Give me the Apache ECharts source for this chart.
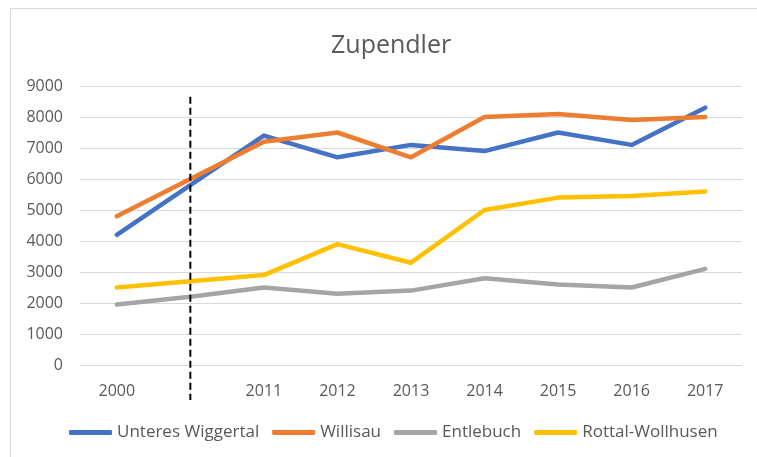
<!DOCTYPE html>
<html>
<head>
<meta charset="utf-8">
<script src="https://cdn.jsdelivr.net/npm/echarts@6/dist/echarts.min.js"></script>
<style>
  html, body { margin: 0; padding: 0; background: #fff; }
  #chart { width: 757px; height: 457px; }
</style>
</head>
<body>
<div id="chart"></div>
<script>
// x axis: second slot is an unlabeled gap (2001-2010)
var years = ['2000', '', '2011', '2012', '2013', '2014', '2015', '2016', '2017'];
var wiggertal = [4200, 5800, 7400, 6700, 7100, 6900, 7500, 7100, 8300];
var willisau = [4800, 6000, 7200, 7500, 6700, 8000, 8100, 7900, 8000];
var entlebuch = [1950, 2200, 2500, 2300, 2400, 2800, 2600, 2500, 3100];
var rottal = [2500, 2700, 2900, 3900, 3300, 5000, 5400, 5450, 5600];
// dashed separator: category and value span (runs below the axis)
var breakLine = [['', 8650, -1130]];

var font = 'Open Sans';
var chart = echarts.init(document.getElementById('chart'));

function lineSeries(name, color, data) {
  return {
    name: name,
    type: 'line',
    data: data,
    symbol: 'none',
    lineStyle: { color: color, width: 4.5, join: 'round', cap: 'round' },
    itemStyle: { color: color },
    emphasis: { disabled: true }
  };
}

chart.setOption({
  animation: false,
  graphic: [{
    type: 'rect',
    shape: { x: 10.5, y: 8.5, width: 800, height: 500 },
    style: { fill: 'none', stroke: '#d9d9d9', lineWidth: 1 },
    silent: true
  }],
  title: {
    text: 'Zupendler',
    left: 326,
    top: 28,
    textStyle: { fontFamily: font, fontSize: 25, fontWeight: 'normal', color: '#595959' }
  },
  grid: { left: 80, right: 15, top: 86, bottom: 92 },
  legend: {
    bottom: 11,
    left: 64,
    icon: 'roundRect',
    itemWidth: 43,
    itemHeight: 5,
    itemGap: 13,
    textStyle: { fontFamily: font, fontSize: 17, color: '#595959' },
    data: ['Unteres Wiggertal', 'Willisau', 'Entlebuch', 'Rottal-Wollhusen']
  },
  xAxis: {
    type: 'category',
    data: years,
    boundaryGap: true,
    axisLine: { lineStyle: { color: '#d9d9d9' } },
    axisTick: { show: false },
    axisLabel: { fontFamily: font, fontSize: 16, color: '#595959', margin: 18 }
  },
  yAxis: {
    type: 'value',
    min: 0,
    max: 9000,
    interval: 1000,
    axisLine: { show: false },
    axisTick: { show: false },
    splitLine: { lineStyle: { color: '#d9d9d9', width: 1 } },
    axisLabel: {
      fontFamily: font, fontSize: 16, color: '#595959', margin: 17,
      formatter: function (v) { return String(v); }
    }
  },
  series: [
    lineSeries('Unteres Wiggertal', '#4472c4', wiggertal),
    lineSeries('Willisau', '#ed7d31', willisau),
    lineSeries('Entlebuch', '#a5a5a5', entlebuch),
    lineSeries('Rottal-Wollhusen', '#ffc000', rottal),
    {
      type: 'custom',
      data: breakLine,
      clip: false,
      silent: true,
      z: 5,
      renderItem: function (params, api) {
        var top = api.coord([api.value(0), api.value(1)]);
        var bottom = api.coord([api.value(0), api.value(2)]);
        return {
          type: 'line',
          shape: { x1: top[0], y1: top[1], x2: bottom[0], y2: bottom[1] },
          style: { stroke: '#000', lineWidth: 2, lineDash: [7, 4] }
        };
      }
    }
  ]
});
</script>
</body>
</html>
